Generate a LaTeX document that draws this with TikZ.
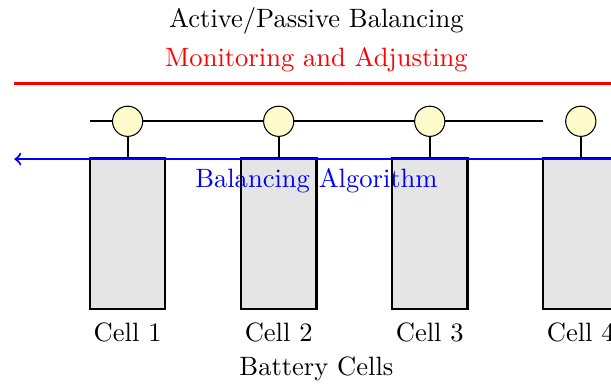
\documentclass[tikz,border=0pt]{standalone}
\begin{document}
\begin{tikzpicture}
\useasboundingbox (-1.69,-0.967) rectangle (6.40,4.106);
\tikzset{
  cellbox/.style={draw, thick, fill=gray!20, minimum width=1cm, minimum height=2cm, inner sep=0pt},
  sensor/.style={draw, fill=yellow!20, circle, minimum size=0.4cm, inner sep=0pt}
}
% red monitoring line
\coordinate (rl) at (-1.5,3);
\coordinate (rr) at (7,3);
\draw[red, thick] (rl) -- (rr);
\node[red] (mon) at (2.5,3.31) {Monitoring and Adjusting};
\node (title) at (2.5,3.83) {Active/Passive Balancing};
% cells
\foreach \i/\x in {1/0,2/2,3/4,4/6}{
  \node[cellbox, anchor=south] (c\i) at (\x,0) {};
  \node (l\i) at (\x,-0.3) {Cell \i};
  \node[sensor] (s\i) at (\x,2.5) {};
  \draw[thick] (s\i) -- (c\i.north);
}
% bus line
\coordinate (bl) at (-0.5,2.5);
\coordinate (br) at (5.5,2.5);
\draw[thick] (bl) -- (s1) -- (s2) -- (s3) -- (br);
% blue arrow
\coordinate (al) at (-1.5,2);
\coordinate (ar) at (7,2);
\draw[blue, thick, ->] (ar) -- (al);
\node[blue] (alg) at (2.5,1.71) {Balancing Algorithm};
\node (bat) at (2.5,-0.78) {Battery Cells};
\end{tikzpicture}
\end{document}
